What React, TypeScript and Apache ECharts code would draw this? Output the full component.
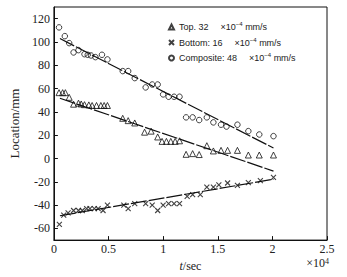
import { useEffect, useRef } from "react";
import * as echarts from "echarts";

// time in seconds, location in mm
const yTickValues = [-60, -40, -20, 0, 20, 40, 60, 80, 100, 120];

const topPoints: [number, number][] = [
  [470, 56.5], [800, 56.5], [1050, 56.5], [1400, 52.5], [1800, 46.6], [2250, 47.5],
  [2500, 46.8], [2800, 46.2], [3200, 46], [3500, 45.5], [3900, 45.5], [4300, 45.5],
  [4600, 45.5], [4900, 45.5], [6300, 34.5], [6800, 32.5], [7400, 30.5], [8300, 22.6],
  [8900, 23.5], [9500, 18.5], [9900, 14.7], [10300, 14.7], [10700, 14.7], [11100, 14.7],
  [11500, 15.2], [12100, 3.6], [12700, 4.2], [13300, 3.4], [14000, 11], [14600, 6.5],
  [15300, 7], [15900, 7], [16800, 7], [17800, 3], [18800, 3], [20100, 3],
];

const bottomPoints: [number, number][] = [
  [500, -56.5], [900, -48.6], [1300, -46.6], [1800, -44.6], [2250, -44.6], [2600, -44.6],
  [3000, -42.9], [3300, -42.9], [3700, -42.9], [4050, -42.9], [4500, -44.6], [4900, -40],
  [6400, -40], [6800, -42.9], [7400, -38.7], [8400, -38.7], [9000, -40], [9500, -44.6],
  [10000, -40], [10500, -38.7], [11000, -38.7], [11500, -38.7], [12200, -32.5], [12700, -31],
  [13400, -31], [14000, -24.5], [14600, -24.5], [15100, -22.6], [15900, -21], [16800, -23],
  [17800, -20.6], [18900, -19], [20100, -16.2],
];

const compositePoints: [number, number][] = [
  [470, 112.5], [1000, 105], [1400, 99], [1800, 91], [2250, 93], [2800, 89.5],
  [3100, 89], [3400, 88.4], [3800, 87], [4400, 89], [4900, 85], [6300, 75],
  [6800, 75], [7400, 69], [8400, 61], [9000, 63.5], [9500, 63.5], [10000, 55],
  [10500, 53], [11000, 53], [11500, 53], [12100, 35.3], [12700, 35.3], [13300, 33],
  [14000, 35.3], [14600, 31], [15300, 29], [15800, 27.4], [16800, 29], [17800, 23.5],
  [18800, 20.6], [20100, 19.2],
];

// fitted lines (endpoints)
const topFit: [number, number][] = [[550, 51.7], [20100, -10.8]];
const bottomFit: [number, number][] = [[550, -49.1], [20100, -17.8]];
const compositeFit: [number, number][] = [[550, 102.9], [20100, 9.0]];

const seriesNames = ["Top", "Bottom", "Composite"];
const legendLabels = ["Top. 32", "Bottom: 16", "Composite: 48"];

const SERIF = "'Liberation Serif', 'Times New Roman', serif";
const SANS = "'Liberation Sans', Arial, sans-serif";

export default function App() {
  const ref = useRef<HTMLDivElement>(null);
  useEffect(() => {
    if (!ref.current) return;
    const chart = echarts.init(ref.current, undefined, { renderer: "svg" });
    const hollow = { color: "rgba(0,0,0,0)", borderColor: "#111", borderWidth: 1 };
    const lineStyle = { color: "#111", width: 1.2, type: [16, 2] as any };
    chart.setOption({
      animation: false,
      grid: {
        left: 36,
        right: 20,
        top: 7,
        bottom: 35,
        show: true,
        borderColor: "#111",
        borderWidth: 1,
      },
      legend: {
        orient: "vertical",
        left: 163,
        top: 16,
        itemWidth: 5,
        itemHeight: 5,
        itemGap: 5,
        data: seriesNames,
        formatter: (name: string) => {
          const i = seriesNames.indexOf(name);
          return `{n|${legendLabels[i]}}{x|×10}{sup|−4}{n| mm/s}`;
        },
        textStyle: {
          fontFamily: SANS,
          fontSize: 9,
          color: "#222",
          rich: {
            n: { fontFamily: SANS, fontSize: 9, color: "#222", lineHeight: 12 },
            x: { fontFamily: SANS, fontSize: 9, color: "#222", lineHeight: 12, padding: [0, 0, 0, 12] },
            sup: { fontFamily: SANS, fontSize: 6, color: "#222", lineHeight: 7, verticalAlign: "top" },
          },
        },
      },
      xAxis: {
        type: "value",
        min: 0,
        max: 25000,
        interval: 5000,
        name: "{i|t}/sec",
        nameLocation: "middle",
        nameGap: 15,
        nameTextStyle: {
          fontFamily: SERIF,
          fontSize: 12,
          color: "#222",
          rich: { i: { fontFamily: SERIF, fontSize: 12, fontStyle: "italic", color: "#222" } },
        },
        axisLine: { onZero: false, lineStyle: { color: "#111" } },
        axisTick: { inside: true, length: 4, lineStyle: { color: "#111" } },
        axisLabel: {
          fontFamily: SERIF,
          fontSize: 12,
          color: "#222",
          margin: 3,
          formatter: (v: number) => String(v / 10000),
        },
        splitLine: { show: false },
      },
      yAxis: {
        type: "value",
        min: -70,
        max: 130,
        name: "Location/mm",
        nameLocation: "middle",
        nameGap: 22,
        nameRotate: 90,
        nameTextStyle: { fontFamily: SERIF, fontSize: 13, color: "#222" },
        axisLine: { show: true, onZero: false, lineStyle: { color: "#111" } },
        axisTick: { inside: true, length: 4, customValues: yTickValues, lineStyle: { color: "#111" } },
        axisLabel: {
          fontFamily: SERIF,
          fontSize: 12,
          color: "#222",
          margin: 4,
          customValues: yTickValues,
        },
        splitLine: { show: false },
      },
      graphic: [
        {
          type: "text",
          right: 18,
          top: 257,
          style: {
            text: "×10{s|4}",
            font: `12px ${SERIF}`,
            fill: "#222",
            rich: {
              s: { fontFamily: SERIF, fontSize: 8, fill: "#222", lineHeight: 8, verticalAlign: "top" },
            },
          },
        },
      ],
      series: [
        {
          name: "Top",
          type: "scatter",
          symbol: "triangle",
          symbolSize: 6,
          itemStyle: hollow,
          data: topPoints,
          z: 3,
        },
        {
          name: "Bottom",
          type: "scatter",
          symbol: "path://M0 0L10 10M10 0L0 10",
          symbolSize: 5,
          itemStyle: { color: "rgba(0,0,0,0)", borderColor: "#111", borderWidth: 1.1 },
          data: bottomPoints,
          z: 3,
        },
        {
          name: "Composite",
          type: "scatter",
          symbol: "circle",
          symbolSize: 5.5,
          itemStyle: hollow,
          data: compositePoints,
          z: 3,
        },
        { type: "line", data: topFit, symbol: "none", lineStyle, silent: true },
        { type: "line", data: bottomFit, symbol: "none", lineStyle, silent: true },
        { type: "line", data: compositeFit, symbol: "none", lineStyle, silent: true },
      ],
    });
    return () => chart.dispose();
  }, []);
  return (
    <div
      ref={ref}
      style={{ position: "fixed", left: 0, top: 0, width: 347, height: 277, background: "#fff" }}
    />
  );
}
